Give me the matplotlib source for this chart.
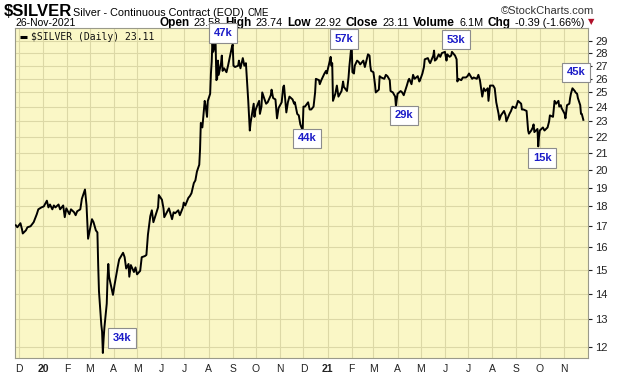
import datetime as dt
import matplotlib
matplotlib.use("Agg")
import matplotlib.pyplot as plt
from matplotlib.ticker import FixedLocator, NullLocator
from matplotlib.offsetbox import TextArea, HPacker, AnnotationBbox

# daily closes, one row per month
months = ["2019-11", "2019-12", "2020-01", "2020-02", "2020-03", "2020-04", "2020-05",
          "2020-06", "2020-07", "2020-08", "2020-09", "2020-10", "2020-11", "2020-12",
          "2021-01", "2021-02", "2021-03", "2021-04", "2021-05", "2021-06", "2021-07",
          "2021-08", "2021-09", "2021-10", "2021-11"]
days = [
    [27, 29],
    [3, 5, 6, 10, 12, 16, 18, 20, 24, 26, 30],
    [2, 6, 8, 10, 13, 15, 17, 21, 23, 27, 29, 31],
    [4, 6, 10, 12, 14, 18, 20, 24, 26, 28],
    [2, 4, 6, 9, 11, 12, 13, 16, 17, 18, 19, 20, 23, 24, 25, 26, 27, 30, 31],
    [2, 6, 8, 13, 15, 17, 20, 21, 23, 27, 29],
    [1, 5, 7, 11, 13, 15, 18, 20, 22, 26, 28, 29],
    [2, 4, 5, 9, 11, 15, 17, 19, 23, 25, 29, 30],
    [2, 6, 8, 10, 13, 15, 17, 20, 21, 22, 24, 27, 28, 30, 31],
    [3, 4, 5, 6, 7, 10, 11, 12, 13, 14, 17, 18, 19, 21, 24, 26, 28, 31],
    [1, 2, 4, 8, 9, 11, 14, 16, 18, 21, 23, 24, 28, 29, 30],
    [2, 5, 6, 8, 9, 12, 14, 16, 20, 21, 23, 26, 28, 30],
    [3, 5, 6, 9, 11, 13, 17, 19, 20, 23, 25, 27, 30],
    [1, 3, 7, 9, 11, 14, 16, 17, 21, 22, 24, 28, 30, 31],
    [4, 5, 6, 7, 8, 11, 13, 15, 19, 21, 22, 26, 28, 29],
    [1, 2, 4, 5, 8, 10, 12, 16, 18, 22, 24, 25, 26],
    [1, 3, 4, 8, 9, 11, 15, 17, 19, 22, 23, 26, 29, 30, 31],
    [1, 5, 7, 9, 13, 15, 16, 19, 21, 23, 27, 29, 30],
    [3, 5, 6, 10, 12, 13, 17, 18, 19, 21, 24, 26, 28],
    [1, 3, 4, 7, 9, 10, 14, 16, 17, 18, 22, 24, 28, 30],
    [2, 6, 8, 12, 14, 16, 19, 21, 23, 26, 27, 29, 30],
    [2, 4, 6, 9, 10, 12, 16, 18, 19, 23, 25, 27, 31],
    [3, 7, 8, 10, 14, 16, 17, 20, 22, 23, 24, 28, 29, 30],
    [1, 5, 7, 11, 13, 14, 18, 20, 22, 25, 26, 28, 29],
    [2, 3, 5, 8, 9, 10, 12, 15, 16, 18, 19, 22, 23, 24, 26],
]
closes = [
    [17.05, 16.95],
    [17.15, 16.85, 16.65, 16.80, 16.95, 17.00, 17.10, 17.20, 17.60, 17.85, 17.95],
    [18.00, 18.30, 17.95, 18.10, 17.85, 18.05, 17.95, 18.10, 17.85, 18.05, 17.45, 17.90],
    [17.60, 17.85, 17.70, 17.55, 17.75, 17.85, 18.40, 18.90, 18.05, 16.40],
    [16.95, 17.35, 17.20, 16.80, 16.70, 15.20, 14.10, 12.80, 12.55, 11.80, 12.30, 12.70,
     13.60, 14.60, 15.25, 14.70, 14.55, 14.10, 13.95],
    [14.35, 15.10, 15.45, 15.75, 15.55, 15.05, 15.25, 14.70, 15.20, 14.90, 15.10],
    [14.80, 14.95, 15.55, 15.60, 15.65, 16.60, 17.50, 17.80, 17.20, 17.70, 17.95, 18.60],
    [18.35, 17.90, 17.45, 17.75, 17.90, 17.35, 17.70, 17.65, 17.80, 17.55, 17.95, 18.20],
    [18.05, 18.45, 18.55, 18.70, 19.25, 19.40, 19.90, 20.30, 21.20, 22.90, 22.60, 24.40,
     24.10, 23.30, 24.40],
    [24.90, 26.40, 27.30, 29.20, 28.10, 28.90, 25.90, 26.00, 27.40, 26.30, 27.20, 27.80,
     26.60, 26.80, 26.50, 27.00, 27.60, 28.50],
    [28.70, 27.00, 26.90, 27.00, 27.40, 26.80, 27.60, 27.00, 27.20, 24.40, 22.40, 22.90,
     24.20, 23.30, 23.70],
    [24.00, 24.40, 23.50, 24.00, 25.00, 24.50, 24.20, 24.30, 24.80, 25.20, 24.60, 24.50,
     23.20, 23.90],
    [24.30, 25.40, 25.50, 23.60, 24.30, 24.70, 24.50, 24.20, 24.30, 23.50, 23.40, 22.80,
     22.40],
    [24.00, 24.00, 24.30, 23.80, 23.80, 24.00, 25.00, 26.00, 25.90, 25.60, 25.90, 26.40,
     26.60, 26.40],
    [27.40, 27.70, 27.00, 27.20, 24.40, 24.90, 25.50, 24.70, 25.10, 25.80, 25.40, 25.10,
     26.10, 26.90],
    [28.80, 26.50, 26.40, 27.00, 27.40, 27.30, 27.10, 27.40, 26.90, 27.90, 27.80, 27.00,
     26.60],
    [26.50, 25.60, 25.00, 25.20, 26.20, 26.10, 26.00, 26.30, 26.20, 25.90, 25.10, 25.00,
     24.70, 24.00, 24.50],
    [24.90, 25.10, 25.00, 24.80, 25.50, 25.90, 26.00, 25.60, 26.30, 26.00, 26.20, 25.80,
     25.90],
    [26.40, 26.90, 27.50, 27.60, 27.30, 27.20, 27.80, 28.20, 27.40, 27.50, 27.90, 27.70,
     28.00],
    [28.10, 27.40, 27.90, 27.70, 27.80, 28.10, 27.80, 27.50, 25.80, 26.00, 25.90, 26.10,
     26.10, 26.20],
    [26.40, 26.00, 26.10, 26.00, 26.30, 25.90, 24.70, 25.30, 25.10, 25.30, 24.40, 25.50,
     25.50],
    [25.50, 25.30, 24.30, 23.50, 23.10, 23.40, 23.70, 23.40, 23.00, 23.50, 23.70, 24.00,
     23.90],
    [24.40, 24.20, 23.80, 23.80, 23.70, 22.40, 22.20, 22.40, 22.60, 22.80, 22.30, 22.50,
     21.40, 22.00],
    [22.40, 22.60, 22.40, 22.60, 23.00, 23.40, 23.30, 24.40, 24.20, 24.40, 24.00, 24.10,
     23.90],
    [23.50, 23.20, 24.10, 24.20, 24.60, 24.90, 25.30, 25.10, 25.00, 24.90, 24.60, 24.10,
     23.50, 23.50, 23.10],
]

y_ticks = list(range(12, 30))
x_tick_labels = ["D", "20", "F", "M", "A", "M", "J", "J", "A", "S", "O", "N",
                 "D", "21", "F", "M", "A", "M", "J", "J", "A", "S", "O", "N"]

# volume call-outs: label, date and price level where the box sits
note_labels = ["34k", "47k", "57k", "44k", "53k", "29k", "15k", "45k"]
note_dates = ["2020-04-12", "2020-08-20", "2021-01-22", "2020-12-06",
              "2021-06-15", "2021-04-09", "2021-10-04", "2021-11-17"]
note_prices = [12.32, 29.66, 29.15, 21.9, 29.1, 23.4, 20.7, 26.5]

header_stats = [("Open", "23.58"), ("High", "23.74"), ("Low", "22.92"),
                ("Close", "23.11"), ("Volume", "6.1M"), ("Chg", "-0.39 (-1.66%)")]

plt.rcParams["font.family"] = ["Liberation Sans", "DejaVu Sans"]

x = []
y = []
for m, ds, cs in zip(months, days, closes):
    yr, mo = map(int, m.split("-"))
    for d, c in zip(ds, cs):
        x.append(dt.date(yr, mo, d))
        y.append(c)

W, H = 620, 376
fig = plt.figure(figsize=(W / 100, H / 100), dpi=100)
fig.patch.set_facecolor("white")

left, right, top, bottom = 15, 588, 28, 358
ax = fig.add_axes([left / W, (H - bottom) / H, (right - left) / W, (bottom - top) / H])
ax.set_zorder(5)
ax.set_facecolor("#faf7c6")

ax.plot(x, y, color="black", lw=1.4, zorder=3)

ax.set_yscale("log")
ax.set_ylim(11.63, 30.1)
ax.set_xlim(dt.date(2019, 11, 26), dt.date(2021, 12, 2))

ax.yaxis.set_major_locator(FixedLocator(y_ticks))
ax.yaxis.set_minor_locator(NullLocator())
ax.set_yticklabels([str(t) for t in y_ticks])
ax.yaxis.tick_right()
ax.tick_params(axis="y", length=3, pad=2, labelsize=8, colors="#222222")

month_starts = []
for i in range(len(x_tick_labels)):
    mo = 12 + i
    month_starts.append(dt.date(2019 + (mo - 1) // 12, (mo - 1) % 12 + 1, 1))
ax.set_xticks(month_starts)
ax.set_xticklabels(x_tick_labels)
ax.xaxis.set_minor_locator(NullLocator())
ax.tick_params(axis="x", length=0, pad=4, labelsize=7.5, colors="#222222")
for lab in ax.get_xticklabels():
    if lab.get_text() in ("20", "21"):
        lab.set_fontweight("bold")

ax.grid(True, color="#dcd8a6", lw=0.8, zorder=0)
for s in ax.spines.values():
    s.set_color("#9a9a8a")
    s.set_linewidth(0.8)

for lab, d, p in zip(note_labels, note_dates, note_prices):
    ax.text(dt.date.fromisoformat(d), p, lab, ha="center", va="center",
            fontsize=8, fontweight="bold", color="#1c1cc8", clip_on=False, zorder=10,
            bbox=dict(boxstyle="square,pad=0.42", fc="white", ec="#8c8c8c", lw=0.8))

# legend entry inside the plot
ax.plot([0.009, 0.021], [0.973, 0.973], transform=ax.transAxes,
        color="black", lw=2.2, solid_capstyle="butt", zorder=4)
ax.text(0.028, 0.973, r"\$SILVER (Daily) 23.11", transform=ax.transAxes,
        family="DejaVu Sans Mono", fontsize=7, va="center", ha="left",
        color="#111111", zorder=4)

# header
fig.text(4 / W, 1 - 12 / H, r"\$SILVER", fontsize=12, fontweight="bold",
         va="center", ha="left")
fig.text(73 / W, 1 - 13 / H, "Silver - Continuous Contract (EOD)", fontsize=7.8,
         va="center", ha="left")
fig.text(248 / W, 1 - 13 / H, "CME", fontsize=7, va="center", ha="left")
fig.text(594 / W, 1 - 11 / H, "\u00a9StockCharts.com", fontsize=8, color="#333333",
         va="center", ha="right")
fig.text(15 / W, 1 - 23 / H, "26-Nov-2021", fontsize=7.5, va="center", ha="left")

parts = []
for k, v in header_stats:
    parts.append(TextArea(k, textprops=dict(fontsize=8.5, fontweight="bold")))
    parts.append(TextArea(v, textprops=dict(fontsize=7.8)))
row = HPacker(children=parts, pad=0, sep=3)
ab = AnnotationBbox(row, (584, H - 23), xycoords="figure pixels", box_alignment=(1, 0.5),
                    frameon=False, pad=0, zorder=1)
fig.add_artist(ab)
fig.text(591 / W, 1 - 22 / H, "\u25bc", fontsize=6, color="#b0102a", va="center",
         ha="center", family=["DejaVu Sans"])

fig.savefig("out.png", dpi=100)
